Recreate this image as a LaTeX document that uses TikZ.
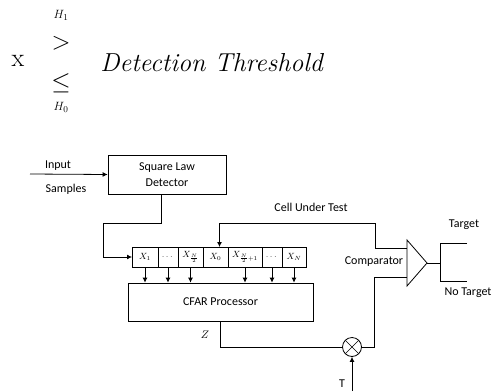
\documentclass[tikz,border=0pt]{standalone}
\usepackage{amsmath,amssymb}
\usepackage{fontspec}
\newfontfamily\calfont{Carlito}
\usetikzlibrary{arrows.meta,positioning,shapes.geometric}

\begin{document}
\begin{tikzpicture}[x=1pt, y=-1pt, >={Latex[length=5pt,width=5pt]}, thick,
  font=\calfont\fontsize{12}{14}\selectfont,
  blk/.style={draw, align=center, inner sep=0pt},
  cell/.style={draw, thin, minimum height=20pt, inner sep=0pt, outer sep=0pt, font=\fontsize{9}{10}\selectfont},
  big/.style={font=\fontsize{26}{30}\selectfont, inner sep=0pt}]
\useasboundingbox (0,0) rectangle (492,391);
% decision rule
\node[big] (x) at (18,61) {x};
\node[font=\fontsize{13}{14}\selectfont] (h1) at (61,15) {$H_1$};
\node[font=\fontsize{28}{30}\selectfont] (gt) at (61,43) {$>$};
\node[font=\fontsize{28}{30}\selectfont] (le) at (61,83) {$\leq$};
\node[font=\fontsize{13}{14}\selectfont] (h0) at (61,107) {$H_0$};
\node[big, anchor=west] (thr) at (100,63) {\itshape Detection Threshold};
% detector
\coordinate (in) at (30,174);
\node[blk, minimum width=118pt, minimum height=39pt] (sq) at (167,174.5) {Square Law\\[2pt] Detector};
\node (inl) at (58,166) {Input};
\node (sml) at (66,189) {Samples};
\draw[->] (in) -- (sq.west);
% reference window
\node[cell, minimum width=26pt, anchor=west] (c1) at (132,257) {$X_1$};
\node[cell, minimum width=20pt, right=0pt of c1] (c2) {$\dots$};
\node[cell, minimum width=25pt, right=0pt of c2] (c3) {$X_{\frac{N}{2}}$};
\node[cell, minimum width=25pt, right=0pt of c3] (c0) {$X_0$};
\node[cell, minimum width=34pt, right=0pt of c0] (c4) {$X_{\frac{N}{2}+1}$};
\node[cell, minimum width=20pt, right=0pt of c4] (c5) {$\dots$};
\node[cell, minimum width=24pt, right=0pt of c5] (c6) {$X_N$};
\draw[->] ([xshift=-6pt]sq.south) |- (103,223) |- (c1.west);
\node[blk, minimum width=185pt, minimum height=38pt] (cfar) at (220.5,302) {CFAR Processor};
\foreach \c in {c1,c2,c3,c4,c5,c6}
  \draw[->] (\c.south) -- (\c.south |- cfar.north);
% threshold and comparator
\node[draw, circle, minimum size=19pt, inner sep=0pt,
  path picture={\draw[thin] (path picture bounding box.north west) -- (path picture bounding box.south east)
  (path picture bounding box.north east) -- (path picture bounding box.south west);}] (mul) at (352,347) {};
\node[font=\fontsize{11}{12}\selectfont] (z) at (205,335) {$Z$};
\coordinate (t) at (352,391);
\node (tl) at (342,384) {T};
\draw (cfar.south) |- (mul.west);
\draw[->] (t) -- (mul.south);
\coordinate (ca) at (407,240);
\coordinate (cb) at (407,286);
\coordinate (cp) at (427,263);
\draw (ca) -- (cp) -- (cb) -- cycle;
\node (cmpl) at (374,262) {Comparator};
\node (cutl) at (311,207) {Cell Under Test};
\draw[->] (c0.north) ++(4,-24) coordinate (cu) -- ++(0,24);
\draw (cu) -| (375,248) -- (407,248);
\draw (mul.east) -| (374,277) -- (407,277);
% decision outputs
\coordinate (fk) at (440,263);
\draw (cp) -- (fk);
\draw (467,243) -- (440,243) -- (440,281) -- (467,281);
\node (tg) at (464,225) {Target};
\node (nt) at (468,293) {No Target};
\end{tikzpicture}
\end{document}
